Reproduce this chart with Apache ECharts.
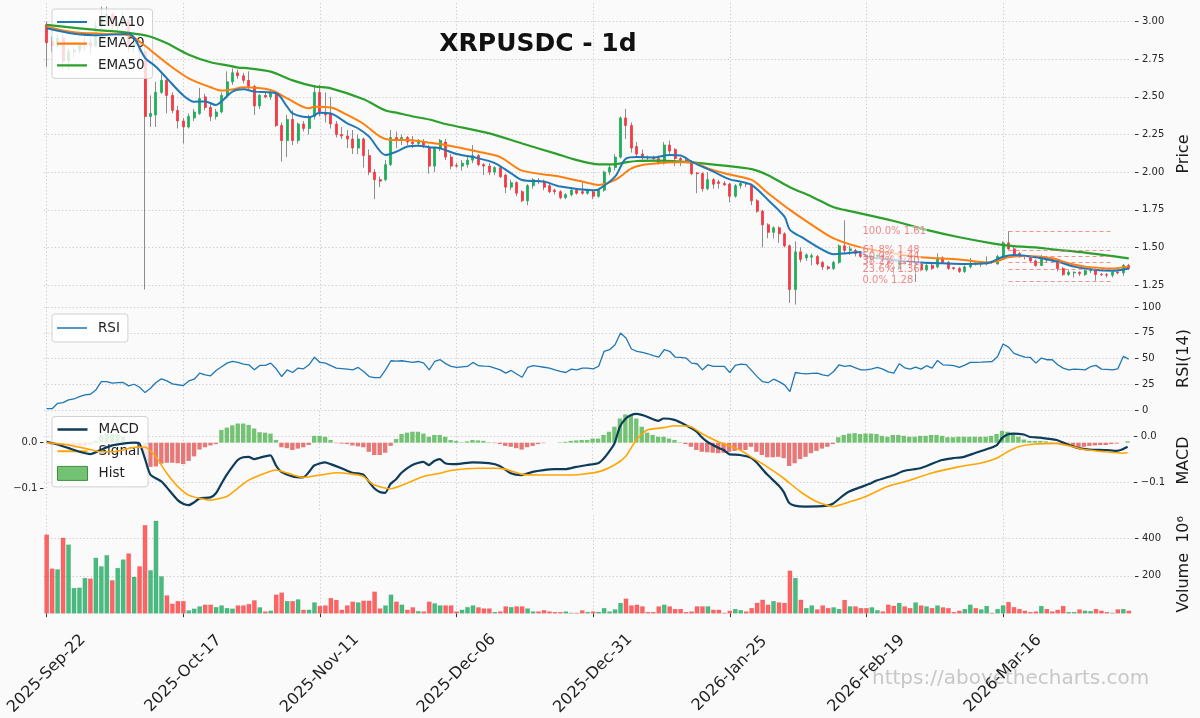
<!DOCTYPE html>
<html>
<head>
<meta charset="utf-8">
<title>XRPUSDC - 1d</title>
<script src="https://cdn.jsdelivr.net/npm/echarts@6/dist/echarts.min.js"></script>
<style>
  html, body { margin: 0; padding: 0; background: #fafafa; }
  #chart { width: 1200px; height: 718px; }
</style>
</head>
<body>
<div id="chart"></div>
<script>
// ---- daily candles, 2025-09-22 .. 2026-04-08 ----
const MONTHS = ['Jan','Feb','Mar','Apr','May','Jun','Jul','Aug','Sep','Oct','Nov','Dec'];
const FIRST_DAY = Date.UTC(2025, 8, 22);
const DAY_COUNT = 199;
const dates = Array.from({ length: DAY_COUNT }, (_, k) => {
  const d = new Date(FIRST_DAY + k * 86400000);
  return d.getUTCFullYear() + '-' + MONTHS[d.getUTCMonth()] + '-' + String(d.getUTCDate()).padStart(2, '0');
});

const opens = [
  2.98,2.87,2.84,2.89,2.74,2.80,2.81,2.85,2.86,2.84,
  2.97,3.03,3.05,2.97,2.99,3.01,2.84,2.86,2.80,2.37,
  2.38,2.53,2.61,2.51,2.41,2.34,2.30,2.36,2.39,2.50,
  2.43,2.37,2.40,2.51,2.60,2.66,2.64,2.61,2.57,2.44,
  2.51,2.50,2.53,2.31,2.21,2.35,2.21,2.32,2.29,2.37,
  2.53,2.39,2.39,2.32,2.25,2.24,2.22,2.16,2.22,2.11,
  2.00,1.95,1.95,2.05,2.23,2.21,2.23,2.20,2.19,2.20,
  2.16,2.04,2.16,2.20,2.10,2.045,2.04,2.05,2.08,2.11,
  2.05,2.04,2.00,2.03,1.98,1.90,1.93,1.87,1.81,1.91,
  1.945,1.94,1.91,1.88,1.87,1.83,1.85,1.88,1.87,1.86,
  1.87,1.84,1.88,2.00,2.03,2.10,2.36,2.31,2.17,2.12,
  2.10,2.10,2.09,2.06,2.18,2.15,2.09,2.08,2.07,1.995,
  1.99,1.89,1.95,1.935,1.925,1.92,1.84,1.91,1.925,1.91,
  1.81,1.74,1.65,1.60,1.63,1.59,1.51,1.22,1.47,1.43,
  1.435,1.44,1.40,1.37,1.36,1.40,1.51,1.48,1.48,1.46,
  1.44,1.42,1.44,1.45,1.41,1.37,1.36,1.41,1.39,1.38,
  1.39,1.35,1.38,1.37,1.43,1.40,1.365,1.36,1.34,1.37,
  1.395,1.39,1.39,1.405,1.39,1.43,1.53,1.49,1.46,1.445,
  1.43,1.41,1.38,1.42,1.42,1.41,1.36,1.32,1.33,1.335,
  1.32,1.345,1.35,1.32,1.318,1.315,1.335,1.33,1.38
];
const highs = [
  3.00,2.90,2.92,2.92,2.82,2.83,2.86,2.90,2.89,3.00,
  3.10,3.10,3.06,3.02,3.06,3.02,2.89,2.88,2.84,2.51,
  2.60,2.65,2.62,2.53,2.44,2.36,2.39,2.42,2.56,2.52,
  2.45,2.42,2.53,2.67,2.69,2.68,2.66,2.67,2.58,2.52,
  2.53,2.54,2.54,2.33,2.38,2.41,2.33,2.34,2.38,2.58,
  2.58,2.53,2.50,2.34,2.30,2.28,2.28,2.25,2.23,2.15,
  2.02,1.97,2.08,2.28,2.27,2.25,2.24,2.24,2.22,2.22,
  2.18,2.17,2.22,2.22,2.12,2.06,2.08,2.10,2.18,2.12,
  2.06,2.06,2.04,2.04,1.99,1.95,1.94,1.88,1.92,1.96,
  1.96,1.95,1.92,1.89,1.88,1.86,1.89,1.89,1.93,1.89,
  1.88,1.89,2.01,2.05,2.12,2.37,2.42,2.33,2.20,2.15,
  2.11,2.11,2.11,2.20,2.21,2.16,2.10,2.09,2.08,2.00,
  2.00,2.00,1.96,1.95,1.94,1.93,1.92,1.94,1.93,1.92,
  1.82,1.75,1.66,1.64,1.64,1.60,1.52,1.54,1.50,1.46,
  1.46,1.45,1.41,1.38,1.41,1.52,1.68,1.51,1.49,1.47,
  1.45,1.45,1.46,1.46,1.42,1.39,1.42,1.43,1.40,1.41,
  1.40,1.39,1.39,1.46,1.44,1.41,1.37,1.37,1.38,1.43,
  1.40,1.40,1.44,1.41,1.45,1.54,1.608,1.51,1.47,1.45,
  1.44,1.42,1.45,1.43,1.43,1.42,1.37,1.35,1.34,1.34,
  1.355,1.36,1.36,1.33,1.33,1.34,1.35,1.39,1.39
];
const lows = [
  2.70,2.80,2.82,2.68,2.68,2.76,2.79,2.81,2.79,2.83,
  2.95,2.98,2.94,2.93,2.96,2.80,2.79,2.72,1.22,2.30,
  2.30,2.52,2.39,2.39,2.29,2.19,2.29,2.34,2.38,2.41,
  2.34,2.35,2.39,2.49,2.58,2.62,2.59,2.55,2.38,2.42,
  2.49,2.48,2.30,2.07,2.10,2.18,2.19,2.27,2.25,2.35,
  2.37,2.33,2.29,2.23,2.22,2.16,2.12,2.12,2.03,1.98,
  1.82,1.90,1.94,2.04,2.16,2.18,2.18,2.16,2.17,2.16,
  1.99,2.00,2.14,2.08,2.02,2.03,2.01,2.03,2.06,2.04,
  1.98,1.98,1.98,1.96,1.86,1.88,1.84,1.80,1.78,1.89,
  1.92,1.88,1.86,1.85,1.82,1.82,1.84,1.85,1.85,1.85,
  1.82,1.83,1.87,1.98,2.01,2.09,2.22,2.13,2.10,2.08,
  2.08,2.08,2.05,2.05,2.12,2.04,2.04,2.06,1.98,1.86,
  1.87,1.88,1.89,1.89,1.91,1.80,1.83,1.89,1.90,1.78,
  1.73,1.50,1.56,1.56,1.53,1.50,1.13,1.12,1.40,1.41,
  1.38,1.38,1.35,1.35,1.35,1.39,1.46,1.45,1.44,1.43,
  1.40,1.40,1.42,1.40,1.35,1.32,1.35,1.38,1.36,1.27,
  1.34,1.34,1.35,1.36,1.39,1.35,1.35,1.33,1.33,1.36,
  1.38,1.37,1.38,1.39,1.385,1.42,1.48,1.44,1.43,1.42,
  1.40,1.37,1.375,1.40,1.40,1.34,1.31,1.31,1.30,1.31,
  1.31,1.33,1.278,1.31,1.30,1.30,1.32,1.31,1.35
];
const closes = [
  2.86,2.84,2.89,2.74,2.80,2.81,2.85,2.86,2.84,2.97,
  3.03,3.05,2.97,2.99,3.01,2.84,2.86,2.80,2.37,2.39,
  2.53,2.61,2.51,2.41,2.34,2.30,2.37,2.40,2.49,2.43,
  2.37,2.40,2.51,2.60,2.66,2.64,2.61,2.57,2.44,2.51,
  2.50,2.53,2.31,2.21,2.35,2.21,2.32,2.29,2.37,2.53,
  2.39,2.38,2.32,2.25,2.24,2.22,2.16,2.22,2.11,2.00,
  1.95,1.94,2.05,2.23,2.21,2.23,2.20,2.19,2.21,2.18,
  2.04,2.16,2.21,2.10,2.04,2.04,2.06,2.08,2.11,2.05,
  2.04,2.00,2.03,1.97,1.90,1.93,1.86,1.81,1.91,1.95,
  1.94,1.90,1.87,1.87,1.83,1.85,1.88,1.86,1.86,1.88,
  1.84,1.88,2.00,2.03,2.10,2.36,2.31,2.16,2.12,2.10,
  2.095,2.09,2.06,2.18,2.14,2.09,2.08,2.07,1.99,1.99,
  1.89,1.95,1.92,1.925,1.915,1.84,1.91,1.925,1.92,1.81,
  1.74,1.65,1.60,1.63,1.59,1.51,1.22,1.47,1.42,1.45,
  1.445,1.39,1.37,1.36,1.40,1.51,1.48,1.49,1.46,1.44,
  1.42,1.44,1.45,1.41,1.37,1.36,1.41,1.39,1.38,1.39,
  1.35,1.38,1.36,1.43,1.40,1.36,1.36,1.34,1.37,1.39,
  1.39,1.395,1.40,1.40,1.44,1.53,1.49,1.45,1.44,1.44,
  1.41,1.38,1.42,1.415,1.41,1.36,1.32,1.335,1.335,1.325,
  1.345,1.35,1.32,1.318,1.315,1.335,1.33,1.38,1.36
];

// volume, millions
const volumes = [
  419,239,235,402,366,136,138,189,186,296,
  251,310,177,242,287,319,195,251,469,230,
  492,198,97,53,67,67,18,27,39,48,
  48,35,44,30,27,44,44,51,71,34,
  12,16,101,112,67,67,76,21,21,60,
  41,44,83,73,21,44,64,60,69,69,
  117,28,44,101,64,48,21,34,14,12,
  64,55,44,44,44,12,21,35,44,34,
  28,28,9,12,39,35,39,39,28,12,
  12,19,12,9,9,12,5,5,18,9,
  12,10,30,12,23,57,80,44,48,39,
  9,9,39,48,39,25,25,9,12,39,
  39,39,21,21,5,16,25,19,12,30,
  58,74,48,67,60,57,228,189,74,30,
  44,23,44,30,34,25,73,39,39,30,
  30,34,19,12,48,42,57,39,30,60,
  44,39,30,44,34,30,9,16,25,48,
  30,23,41,5,25,44,62,35,25,16,
  9,12,41,25,12,21,41,9,9,23,
  16,14,25,16,9,5,23,25,16
];

// moving averages, [day index, price]
const ema10 = [[0,2.956],[5,2.92],[10,2.91],[15,2.92],[18,2.76],[20,2.70],[22,2.623],[25,2.51],[27,2.468],[29,2.47],[31,2.446],[32,2.47],[34,2.535],[36,2.55],[38,2.535],[42,2.524],[44,2.435],[45,2.39],[48,2.364],[50,2.395],[52,2.39],[55,2.324],[57,2.29],[59,2.236],[62,2.114],[64,2.136],[66,2.17],[68,2.176],[70,2.165],[72,2.158],[75,2.12],[78,2.10],[82,2.06],[85,1.992],[87,1.948],[91,1.937],[94,1.904],[100,1.88],[101,1.886],[104,1.97],[106,2.09],[108,2.10],[111,2.098],[114,2.114],[116,2.11],[118,2.07],[120,2.036],[122,2.003],[125,1.952],[127,1.937],[129,1.915],[132,1.815],[135,1.704],[136,1.616],[138,1.571],[142,1.483],[144,1.455],[146,1.46],[149,1.47],[150,1.44],[155,1.416],[160,1.40],[164,1.394],[168,1.39],[172,1.394],[175,1.438],[177,1.45],[181,1.434],[185,1.405],[188,1.372],[192,1.35],[195,1.345],[198,1.36]];
const ema20 = [[0,2.967],[5,2.93],[10,2.92],[15,2.91],[18,2.84],[19,2.81],[22,2.723],[26,2.623],[30,2.564],[32,2.542],[34,2.55],[36,2.564],[41,2.546],[44,2.49],[48,2.424],[49,2.435],[52,2.43],[55,2.38],[58,2.32],[61,2.236],[63,2.214],[66,2.214],[70,2.196],[73,2.18],[79,2.136],[83,2.10],[87,2.01],[94,1.97],[100,1.92],[101,1.915],[104,1.948],[107,2.025],[109,2.048],[112,2.06],[115,2.065],[118,2.065],[121,2.025],[124,1.992],[129,1.948],[132,1.86],[136,1.749],[140,1.65],[144,1.56],[149,1.50],[155,1.46],[160,1.434],[167,1.42],[172,1.40],[174,1.41],[176,1.434],[179,1.443],[184,1.427],[187,1.394],[190,1.372],[195,1.36],[198,1.372]];
const ema50 = [[0,2.978],[3,2.967],[9,2.945],[15,2.925],[19,2.90],[22,2.856],[26,2.78],[30,2.73],[33,2.71],[35,2.695],[37,2.69],[41,2.668],[45,2.61],[49,2.57],[52,2.557],[58,2.484],[62,2.41],[64,2.395],[67,2.37],[70,2.35],[73,2.32],[81,2.258],[87,2.19],[93,2.125],[97,2.08],[101,2.052],[104,2.052],[106,2.065],[108,2.074],[112,2.076],[118,2.065],[124,2.043],[129,2.02],[132,1.98],[136,1.90],[140,1.837],[144,1.766],[146,1.749],[155,1.675],[161,1.616],[167,1.567],[173,1.527],[177,1.508],[181,1.50],[184,1.487],[190,1.465],[198,1.427]];

// Fibonacci retracement of the March swing
const fibLevels = [1.608, 1.482, 1.443, 1.404, 1.356, 1.278];
const fibTexts = ['100.0% 1.61', '61.8% 1.48', '50.0% 1.44', '38.2% 1.40', '23.6% 1.36', '0.0% 1.28'];
const fibFrom = 176, fibTo = 195, fibLabelAt = 149;

// RSI(14), one value per day
const rsi = [
  1.3,1.3,6.5,7.2,9.8,10.7,13,14.6,15.3,19.5,
  27.6,27.6,26,26.5,26.7,23.4,25,22.1,16.9,21.1,
  26.7,30.2,28.3,25.4,24.5,23.7,28.2,29.9,35.8,34.1,
  33.2,38.4,42,45.5,47.2,46.2,44.5,43.9,39,43.3,
  43.3,45.5,40,32.5,39,36.4,40.7,40,43.9,51.3,
  46.2,45.5,43,40.7,40.2,39.7,39,41.3,37.4,32.5,
  31.5,31.5,39,47.8,47.5,47.8,47,46.2,47.1,45.5,
  39,47.1,48.8,45,42.3,41.3,41.8,42.3,46.2,43,
  42.5,42.3,40.7,39,35.8,38.4,35,31.8,41.3,43,
  42.3,41.5,40.7,39,37.4,36.4,39.7,39,40.7,40.7,
  40,42.5,57,58.5,63.4,74.8,69.9,59.2,57,55.9,
  54.6,52.7,51.4,58.5,57,51.4,51,50.4,45.5,44.9,
  39,43.9,42.3,42.3,42.3,36.4,43.3,44.6,44,38.2,
  32.4,27.5,26.5,29.9,27.5,24.4,17.9,36.4,35.5,35.1,
  35.5,35.8,34.1,33.2,37.4,43.9,42.3,43,41,39,
  39,40,41.3,39.7,37,35.8,44.9,41,39.7,41.6,
  39.7,43,40.7,48.1,43.9,43.5,43,41.3,43.5,46.2,
  46.3,46.5,46.8,47.1,52,64.1,61.1,55,53,51.4,
  51,45.5,50.4,48.8,48.8,44,40.7,39,39.7,39.5,
  39,42,43.3,39.7,39.5,39,40,52,49.4
];

// MACD(12,26,9): lines as [day index, value], histogram one bar per day
const macdLine = [[0,0.002],[2,-0.004],[4,-0.012],[6,-0.02],[8,-0.025],[10,-0.015],[12,-0.006],[14,-0.002],[16,0.0],[17,-0.002],[18,-0.035],[19,-0.07],[21,-0.085],[22,-0.098],[24,-0.126],[25,-0.134],[26,-0.137],[27,-0.131],[28,-0.122],[30,-0.12],[31,-0.111],[32,-0.09],[33,-0.07],[34,-0.053],[35,-0.038],[36,-0.032],[37,-0.031],[38,-0.036],[39,-0.033],[40,-0.03],[41,-0.028],[42,-0.05],[43,-0.064],[45,-0.074],[47,-0.076],[48,-0.065],[49,-0.05],[51,-0.043],[52,-0.047],[54,-0.056],[56,-0.066],[58,-0.07],[59,-0.085],[60,-0.1],[61,-0.108],[62,-0.11],[63,-0.09],[64,-0.08],[65,-0.066],[67,-0.049],[69,-0.042],[70,-0.049],[71,-0.04],[72,-0.036],[73,-0.045],[75,-0.047],[78,-0.043],[81,-0.045],[83,-0.051],[85,-0.067],[87,-0.071],[89,-0.064],[91,-0.06],[93,-0.058],[95,-0.058],[97,-0.053],[99,-0.049],[101,-0.045],[102,-0.035],[103,-0.02],[104,-0.002],[105,0.035],[106,0.052],[107,0.06],[108,0.063],[109,0.061],[110,0.057],[112,0.048],[113,0.053],[115,0.05],[117,0.039],[119,0.025],[120,0.012],[121,0.002],[123,-0.011],[124,-0.016],[125,-0.025],[127,-0.027],[129,-0.033],[130,-0.043],[132,-0.07],[134,-0.093],[135,-0.108],[136,-0.132],[137,-0.138],[139,-0.14],[143,-0.138],[144,-0.134],[146,-0.115],[147,-0.107],[149,-0.098],[151,-0.089],[152,-0.083],[155,-0.072],[157,-0.062],[160,-0.056],[162,-0.047],[164,-0.038],[166,-0.034],[168,-0.031],[170,-0.023],[172,-0.015],[174,-0.006],[175,0.01],[176,0.018],[177,0.02],[179,0.018],[180,0.013],[182,0.011],[185,0.006],[187,-0.004],[189,-0.012],[191,-0.015],[194,-0.016],[196,-0.018],[197,-0.015],[198,-0.009]];
const signalLine = [[0,0],[2,-0.002],[4,-0.005],[6,-0.01],[8,-0.015],[10,-0.02],[12,-0.02],[14,-0.016],[16,-0.01],[18,-0.01],[20,-0.031],[22,-0.067],[24,-0.096],[26,-0.115],[28,-0.122],[30,-0.126],[33,-0.118],[35,-0.1],[37,-0.082],[40,-0.067],[42,-0.06],[44,-0.066],[47,-0.076],[50,-0.071],[53,-0.066],[56,-0.069],[58,-0.074],[60,-0.093],[63,-0.101],[66,-0.089],[69,-0.074],[72,-0.067],[74,-0.061],[79,-0.056],[82,-0.056],[84,-0.058],[87,-0.069],[90,-0.071],[96,-0.071],[101,-0.064],[104,-0.049],[106,-0.031],[108,0.006],[110,0.028],[113,0.033],[115,0.037],[118,0.035],[120,0.02],[123,0.002],[127,-0.016],[129,-0.031],[132,-0.053],[135,-0.078],[138,-0.107],[141,-0.129],[144,-0.14],[146,-0.134],[150,-0.118],[154,-0.096],[158,-0.083],[162,-0.067],[167,-0.053],[171,-0.045],[174,-0.034],[176,-0.02],[178,-0.009],[181,-0.003],[185,-0.0015],[188,-0.009],[190,-0.015],[194,-0.02],[197,-0.023],[198,-0.022]];
const macdHist = [
  0.0,-0.004,-0.008,-0.01,-0.012,-0.012,-0.01,-0.006,-0.004,0.004,
  0.017,0.02,0.02,0.018,0.014,-0.002,-0.004,0.001,-0.035,-0.053,
  -0.052,-0.046,-0.044,-0.044,-0.045,-0.047,-0.04,-0.03,-0.015,-0.01,
  -0.006,-0.003,0.028,0.033,0.038,0.042,0.042,0.039,0.031,0.023,
  0.022,0.02,0.006,-0.01,-0.012,-0.016,-0.013,-0.01,-0.005,0.015,
  0.015,0.013,0.006,-0.001,-0.002,-0.003,-0.006,-0.008,-0.01,-0.02,
  -0.027,-0.027,-0.022,-0.007,0.008,0.019,0.022,0.024,0.024,0.02,
  0.013,0.017,0.017,0.013,0.006,0.004,0.001,0.003,0.006,0.005,
  0.004,0.001,-0.001,-0.003,-0.007,-0.009,-0.012,-0.015,-0.01,-0.007,
  -0.003,-0.001,0.0,0.0,0.001,0.002,0.004,0.005,0.006,0.006,
  0.009,0.009,0.017,0.024,0.035,0.053,0.062,0.061,0.053,0.035,
  0.022,0.017,0.013,0.013,0.009,0.006,0.001,-0.003,-0.009,-0.016,
  -0.02,-0.021,-0.022,-0.023,-0.022,-0.02,-0.018,-0.016,-0.016,-0.009,
  -0.02,-0.027,-0.032,-0.032,-0.031,-0.034,-0.051,-0.045,-0.036,-0.031,
  -0.023,-0.018,-0.013,-0.009,-0.003,0.012,0.017,0.02,0.021,0.019,
  0.02,0.02,0.019,0.015,0.013,0.017,0.017,0.015,0.013,0.013,
  0.015,0.015,0.017,0.017,0.015,0.012,0.012,0.013,0.013,0.013,
  0.013,0.013,0.013,0.015,0.019,0.026,0.024,0.02,0.013,0.007,
  0.004,0.004,0.004,0.003,0.001,-0.003,-0.005,-0.007,-0.009,-0.01,
  -0.009,-0.007,-0.006,-0.005,-0.005,-0.003,-0.002,0.0,0.003
];

// tick labels
const priceTicks = [1.25, 1.5, 1.75, 2.0, 2.25, 2.5, 2.75, 3.0];
const rsiTicks = [0, 25, 50, 75, 100];
const macdTicks = [-0.1, 0];
const volumeTicks = [200, 400];
const DATE_LABEL_STEP = 25;

// ---- styling ----
const FONT = 'DejaVu Sans';
const UP = '#1fae5b', DOWN = '#f23b45', WICK = '#8c8c8c';
const VOL_UP = 'rgba(52,180,112,0.9)', VOL_DOWN = 'rgba(255,72,72,0.85)';
const HIST_UP = 'rgba(92,184,92,0.85)', HIST_DOWN = 'rgba(226,96,96,0.85)';
const FIB_LINE = 'rgba(240,110,110,0.75)', FIB_TEXT = 'rgba(232,84,84,0.85)';
const GRID_LINE = { show: true, lineStyle: { color: '#c9c9c9', type: [1.2, 2.4], width: 1 } };
const TICK_TEXT = { fontSize: 10, color: '#262626', fontFamily: FONT };
const AXIS_NAME = { fontSize: 16, color: '#1a1a1a', fontFamily: FONT };

// legend glyphs: a horizontal stroke inside a 30x14 box (thin corner points keep the box size)
const strokeIcon = h => {
  const y0 = (7 - h / 2).toFixed(2), y1 = (7 + h / 2).toFixed(2);
  return 'path://M0,0L30,0L30,0.01ZM0,' + y0 + 'L30,' + y0 + 'L30,' + y1 + 'L0,' + y1 + 'ZM0,14L30,14L30,14.01Z';
};

const PANEL_LEFT = 43.95, PANEL_WIDTH = 1093.5;
const grids = [
  { left: PANEL_LEFT, width: PANEL_WIDTH, top: 3, height: 302 },
  { left: PANEL_LEFT, width: PANEL_WIDTH, top: 307, height: 103 },
  { left: PANEL_LEFT, width: PANEL_WIDTH, top: 411, height: 99 },
  { left: PANEL_LEFT, width: PANEL_WIDTH, top: 515, height: 99.3 }
];

function dateAxis(gridIndex, withLabels) {
  return {
    type: 'category', gridIndex, data: dates, boundaryGap: true,
    axisLine: { show: false },
    axisTick: withLabels
      ? { show: true, alignWithLabel: true, interval: DATE_LABEL_STEP - 1, length: 3.5, lineStyle: { color: '#333' } }
      : { show: false },
    axisLabel: withLabels
      ? { show: true, interval: DATE_LABEL_STEP - 1, rotate: 45, align: 'center', verticalAlign: 'middle',
          margin: 60, fontSize: 16, color: '#1f1f1f', fontFamily: FONT }
      : { show: false, interval: DATE_LABEL_STEP - 1 },
    splitLine: Object.assign({ interval: DATE_LABEL_STEP - 1, alignWithLabel: true }, GRID_LINE)
  };
}

function rightAxis(gridIndex, min, max, ticks, fmt, name, showSplit) {
  return {
    type: 'value', gridIndex, position: 'right', min, max, offset: 3.5,
    axisLine: { show: false },
    axisTick: { show: true, length: 3.5, customValues: ticks, lineStyle: { color: '#333' } },
    axisLabel: Object.assign({ customValues: ticks, formatter: fmt, margin: 7 }, TICK_TEXT),
    splitLine: showSplit ? GRID_LINE : { show: false },
    name, nameLocation: 'middle', nameRotate: 90, nameGap: 41, nameTextStyle: AXIS_NAME
  };
}

const macdFmt = v => v.toFixed(1).replace('-', '\u2212');

const candleRows = opens.map((o, i) => [o, closes[i], lows[i], highs[i]]);
const bodyRows = opens.map((o, i) => [o, closes[i], Math.min(o, closes[i]), Math.max(o, closes[i])]);

const legendBase = {
  orient: 'vertical', left: 52, itemWidth: 30, itemHeight: 14, itemGap: 7.7,
  padding: [6, 8, 6, 5], backgroundColor: 'rgba(255,255,255,0.8)', borderColor: '#d2d2d2',
  borderWidth: 1, borderRadius: 3, selectedMode: false,
  textStyle: { fontSize: 13.5, color: '#1f1f1f', fontFamily: FONT, padding: [0, 0, 0, 6] }
};

const option = {
  animation: false,
  backgroundColor: '#fafafa',
  textStyle: { fontFamily: FONT },
  title: {
    text: 'XRPUSDC - 1d', left: 533, top: 27, textAlign: 'center',
    textStyle: { fontSize: 25, fontWeight: 'bold', color: '#111', fontFamily: FONT }
  },
  legend: [
    Object.assign({}, legendBase, { top: 9, data: [
      { name: 'EMA10', icon: strokeIcon(2.2) },
      { name: 'EMA20', icon: strokeIcon(2.2) },
      { name: 'EMA50', icon: strokeIcon(2.2) }
    ] }),
    Object.assign({}, legendBase, { top: 314, padding: [7, 8, 7, 5], data: [
      { name: 'RSI', icon: strokeIcon(1.6) }
    ] }),
    Object.assign({}, legendBase, { top: 416.5, data: [
      { name: 'MACD', icon: strokeIcon(2.6) },
      { name: 'Signal', icon: strokeIcon(2) },
      { name: 'Hist', icon: 'rect', itemStyle: { color: HIST_UP, borderColor: '#3f8f3f', borderWidth: 1 } }
    ] })
  ],
  grid: grids,
  xAxis: [dateAxis(0, false), dateAxis(1, false), dateAxis(2, false), dateAxis(3, true)],
  yAxis: [
    rightAxis(0, 1.117, 3.124, priceTicks, v => v.toFixed(2), 'Price', true),
    rightAxis(1, 0, 100, rsiTicks, v => String(v), 'RSI(14)', true),
    {
      type: 'value', gridIndex: 2, position: 'left', min: -0.1476, max: 0.0695, offset: 0.5,
      axisLine: { show: false },
      axisTick: { show: true, length: 3.5, customValues: macdTicks, lineStyle: { color: '#333' } },
      axisLabel: Object.assign({ customValues: macdTicks, formatter: macdFmt, margin: 6 }, TICK_TEXT),
      splitLine: { show: false }
    },
    rightAxis(2, -0.1607, 0.0564, macdTicks, macdFmt, 'MACD', true),
    rightAxis(3, 0, 522, volumeTicks, v => String(v), 'Volume  10\u2076', true)
  ],
  series: [
    {
      name: 'wick', type: 'candlestick', xAxisIndex: 0, yAxisIndex: 0, data: candleRows,
      barWidth: 1, silent: true, z: 2,
      itemStyle: { color: WICK, color0: WICK, borderColor: WICK, borderColor0: WICK, borderWidth: 1 }
    },
    {
      name: 'body', type: 'candlestick', xAxisIndex: 0, yAxisIndex: 0, data: bodyRows,
      barWidth: 2.5, silent: true, z: 3,
      itemStyle: { color: UP, color0: DOWN, borderColor: UP, borderColor0: DOWN, borderWidth: 0.8 }
    },
    {
      name: 'EMA50', type: 'line', xAxisIndex: 0, yAxisIndex: 0, data: ema50, symbol: 'none', smooth: 0.3, z: 4,
      lineStyle: { width: 2.2, color: '#2ca02c' }, itemStyle: { color: '#2ca02c' }
    },
    {
      name: 'EMA20', type: 'line', xAxisIndex: 0, yAxisIndex: 0, data: ema20, symbol: 'none', smooth: 0.3, z: 4,
      lineStyle: { width: 2, color: '#ff7f0e' }, itemStyle: { color: '#ff7f0e' }
    },
    {
      name: 'EMA10', type: 'line', xAxisIndex: 0, yAxisIndex: 0, data: ema10, symbol: 'none', smooth: 0.3, z: 4,
      lineStyle: { width: 2, color: '#1f77b4' }, itemStyle: { color: '#1f77b4' }
    },
    {
      name: 'fib', type: 'scatter', xAxisIndex: 0, yAxisIndex: 0, z: 6, silent: true,
      symbol: 'circle', symbolSize: 1, itemStyle: { color: 'rgba(0,0,0,0)' },
      data: fibLevels.map(v => [dates[fibLabelAt], v]),
      label: {
        show: true, position: 'right', distance: 0, formatter: p => fibTexts[p.dataIndex],
        color: FIB_TEXT, fontSize: 10, fontFamily: FONT,
        backgroundColor: 'rgba(250,250,250,0.6)', padding: [0, 1]
      },
      markLine: {
        silent: true, symbol: ['none', 'none'], label: { show: false },
        lineStyle: { type: [4, 3], color: FIB_LINE, width: 1.2 },
        data: fibLevels.map(v => [{ coord: [dates[fibFrom], v] }, { coord: [dates[fibTo], v] }])
      }
    },
    {
      name: 'RSI', type: 'line', xAxisIndex: 1, yAxisIndex: 1, data: rsi, symbol: 'none', z: 3,
      lineStyle: { width: 1.3, color: '#1f77b4' }, itemStyle: { color: '#1f77b4' }
    },
    {
      name: 'Hist', type: 'bar', xAxisIndex: 2, yAxisIndex: 2, data: macdHist, barWidth: '80%', z: 2,
      itemStyle: { color: p => (p.value >= 0 ? HIST_UP : HIST_DOWN) }
    },
    {
      name: 'MACD', type: 'line', xAxisIndex: 2, yAxisIndex: 2, data: macdLine, symbol: 'none', smooth: 0.2, z: 4,
      lineStyle: { width: 2.2, color: '#0d3b5a' }, itemStyle: { color: '#0d3b5a' }
    },
    {
      name: 'Signal', type: 'line', xAxisIndex: 2, yAxisIndex: 2, data: signalLine, symbol: 'none', smooth: 0.2, z: 4,
      lineStyle: { width: 1.6, color: '#ffa500' }, itemStyle: { color: '#ffa500' }
    },
    {
      name: 'Volume', type: 'bar', xAxisIndex: 3, yAxisIndex: 4, data: volumes, barWidth: '88%', z: 2,
      itemStyle: {
        color: p => (closes[p.dataIndex] >= opens[p.dataIndex] ? VOL_UP : VOL_DOWN),
        borderColor: 'rgba(0,0,0,0.12)', borderWidth: 0.5
      }
    }
  ],
  graphic: [{
    type: 'text', left: 872, top: 669, silent: true,
    style: { text: 'https://abovethecharts.com', fontSize: 20, fontFamily: FONT, fill: 'rgba(150,150,150,0.5)' }
  }]
};

const chart = echarts.init(document.getElementById('chart'), null, { renderer: 'canvas', width: 1200, height: 718 });
chart.setOption(option);
</script>
</body>
</html>
